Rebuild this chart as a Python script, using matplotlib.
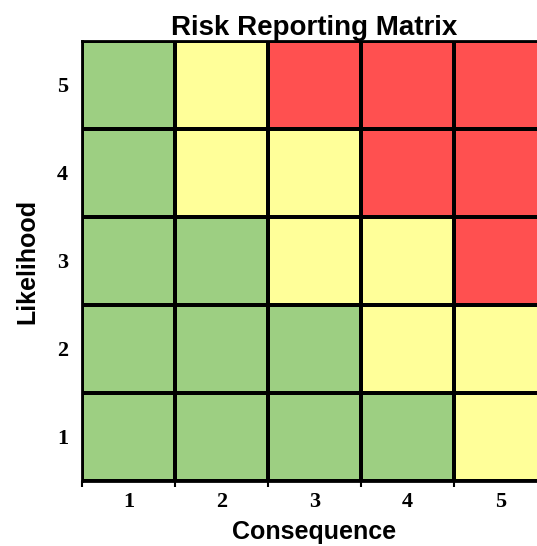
import matplotlib
matplotlib.use("Agg")
import matplotlib.pyplot as plt
import numpy as np
from matplotlib.colors import ListedColormap

consequence = [1, 2, 3, 4, 5]
likelihood = [1, 2, 3, 4, 5]
# risk level per likelihood row (1..5) and consequence column (1..5): 0 low, 1 medium, 2 high
risk_levels = [
    [0, 0, 0, 0, 1],  # likelihood 1
    [0, 0, 0, 1, 1],  # likelihood 2
    [0, 0, 1, 1, 2],  # likelihood 3
    [0, 1, 1, 2, 2],  # likelihood 4
    [0, 1, 2, 2, 2],  # likelihood 5
]
level_colors = ["#9DCF82", "#FFFF99", "#FF5050"]
title = "Risk Reporting Matrix"
xlabel = "Consequence"
ylabel = "Likelihood"

W, H = 537, 546
fig = plt.figure(figsize=(W / 100, H / 100), dpi=100)
left, right, top, bottom = 82, 547, 41, 481
ax = fig.add_axes([left / W, (H - bottom) / H, (right - left) / W, (bottom - top) / H])

data = np.array(risk_levels)
xe = np.arange(len(consequence) + 1) + 0.5
ye = np.arange(len(likelihood) + 1) + 0.5
ax.pcolormesh(xe, ye, data, cmap=ListedColormap(level_colors), vmin=-0.5, vmax=2.5,
              edgecolors="black", linewidth=1.6)
ax.set_xlim(xe[0], xe[-1])
ax.set_ylim(ye[0], ye[-1])

for s in ax.spines.values():
    s.set_linewidth(2.0)
    s.set_color("black")

ax.set_xticks(consequence)
ax.set_xticklabels([str(c) for c in consequence],
                   fontfamily="Liberation Serif", fontweight="bold", fontsize=16)
ax.set_yticks(likelihood)
ax.set_yticklabels([str(l) for l in likelihood],
                   fontfamily="Liberation Serif", fontweight="bold", fontsize=16)
ax.tick_params(axis="both", which="major", length=0)
ax.tick_params(axis="x", which="major", pad=8)
ax.tick_params(axis="y", which="major", pad=10)
ax.set_xticks(xe, minor=True)
ax.tick_params(axis="x", which="minor", length=4, width=1.5, direction="out", color="black")

ax.set_title(title, fontfamily="Liberation Sans", fontweight="bold", fontsize=20, pad=1)
ax.set_xlabel(xlabel, fontfamily="Liberation Sans", fontweight="bold", fontsize=18, labelpad=6)
ax.set_ylabel(ylabel, fontfamily="Liberation Sans", fontweight="bold", fontsize=18, labelpad=13)

fig.savefig("out.png", dpi=100)
